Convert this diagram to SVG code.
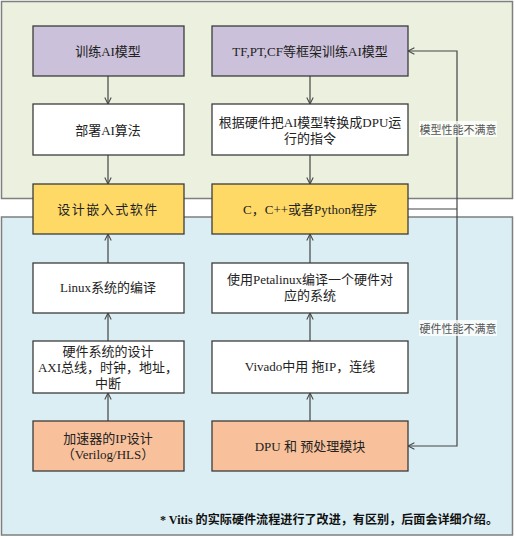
<svg xmlns="http://www.w3.org/2000/svg" width="516" height="538" viewBox="0 0 516 538">
<defs>
<style>
.box{stroke:#3c3c3c;stroke-width:1.3}
.purple{fill:#ccc1da}
.white{fill:#ffffff}
.yellow{fill:#ffd966}
.orange{fill:#f8c19c}
.t{font-family:"Liberation Serif","Noto Sans CJK SC",serif;font-size:13px;fill:#222;text-anchor:middle;dominant-baseline:central}
.lbl{font-family:"Noto Sans CJK SC","Noto Sans",sans-serif;font-size:11px;fill:#555;text-anchor:middle;dominant-baseline:central}
.conn{fill:none;stroke:#444;stroke-width:1.2}
</style>
<marker id="arr" viewBox="0 0 10 10" refX="9" refY="5" markerWidth="8" markerHeight="8" orient="auto" markerUnits="userSpaceOnUse">
<path d="M1,1 L9,5 L1,9" fill="none" stroke="#444" stroke-width="1.3"/>
</marker>
</defs>
<rect width="516" height="538" fill="#ffffff"/>
<g id="panels">
<rect x="1.5" y="1.5" width="511" height="197" fill="#ebf1de" stroke="#7f7f7f" stroke-width="1.5"/>
<rect x="1.5" y="217" width="511" height="318" fill="#dbeef4" stroke="#7f7f7f" stroke-width="1.5"/>
</g>
<g id="connectors">
<line class="conn" x1="108" y1="76" x2="108" y2="104" marker-end="url(#arr)"/>
<line class="conn" x1="108" y1="155" x2="108" y2="184" marker-end="url(#arr)"/>
<line class="conn" x1="108" y1="263" x2="108" y2="234" marker-end="url(#arr)"/>
<line class="conn" x1="108" y1="341" x2="108" y2="313" marker-end="url(#arr)"/>
<line class="conn" x1="108" y1="421" x2="108" y2="393" marker-end="url(#arr)"/>
<line class="conn" x1="310" y1="76" x2="310" y2="104" marker-end="url(#arr)"/>
<line class="conn" x1="310" y1="155" x2="310" y2="184" marker-end="url(#arr)"/>
<line class="conn" x1="310" y1="263" x2="310" y2="234" marker-end="url(#arr)"/>
<line class="conn" x1="310" y1="341" x2="310" y2="313" marker-end="url(#arr)"/>
<line class="conn" x1="310" y1="421" x2="310" y2="393" marker-end="url(#arr)"/>
<line class="conn" x1="408" y1="209" x2="457" y2="209"/>
<path class="conn" d="M457,209 L457,51 L408,51" marker-end="url(#arr)"/>
<path class="conn" d="M457,209 L457,446 L408,446" marker-end="url(#arr)"/>
</g>
<g id="label-model">
<rect x="419" y="121" width="78" height="16" fill="#ffffff" fill-opacity="0.75"/>
<text class="lbl" x="458" y="129">模型性能不满意</text>
</g>
<g id="label-hw">
<rect x="419" y="320" width="78" height="16" fill="#ffffff" fill-opacity="0.75"/>
<text class="lbl" x="458" y="328">硬件性能不满意</text>
</g>
<g id="n-train">
<rect class="box purple" x="33" y="26" width="151" height="50"/>
<text class="t" x="108" y="51">训练AI模型</text>
</g>
<g id="n-tf">
<rect class="box purple" x="212" y="26" width="196" height="50"/>
<text class="t" x="310" y="51">TF,PT,CF等框架训练AI模型</text>
</g>
<g id="n-deploy">
<rect class="box white" x="33" y="104" width="151" height="51"/>
<text class="t" x="108" y="130">部署AI算法</text>
</g>
<g id="n-convert">
<rect class="box white" x="212" y="104" width="196" height="51"/>
<text class="t" x="310" y="122">根据硬件把AI模型转换成DPU运</text>
<text class="t" x="310" y="138">行的指令</text>
</g>
<g id="n-embedded">
<rect class="box yellow" x="33" y="184" width="151" height="50"/>
<text class="t" x="108" y="209" letter-spacing="1.5">设计嵌入式软件</text>
</g>
<g id="n-cpp">
<rect class="box yellow" x="212" y="184" width="196" height="50"/>
<text class="t" x="310" y="209">C，C++或者Python程序</text>
</g>
<g id="n-linux">
<rect class="box white" x="33" y="263" width="151" height="50"/>
<text class="t" x="108" y="287">Linux系统的编译</text>
</g>
<g id="n-petalinux">
<rect class="box white" x="212" y="263" width="196" height="50"/>
<text class="t" x="310" y="279">使用Petalinux编译一个硬件对</text>
<text class="t" x="310" y="295">应的系统</text>
</g>
<g id="n-hwsys">
<rect class="box white" x="33" y="341" width="151" height="52"/>
<text class="t" x="108" y="351">硬件系统的设计</text>
<text class="t" x="108" y="367">AXI总线，时钟，地址，</text>
<text class="t" x="108" y="383">中断</text>
</g>
<g id="n-vivado">
<rect class="box white" x="212" y="341" width="196" height="52"/>
<text class="t" x="310" y="366">Vivado中用 拖IP，连线</text>
</g>
<g id="n-ip">
<rect class="box orange" x="33" y="421" width="151" height="50"/>
<text class="t" x="108" y="438">加速器的IP设计</text>
<text class="t" x="108" y="454">（Verilog/HLS）</text>
</g>
<g id="n-dpu">
<rect class="box orange" x="212" y="421" width="196" height="50"/>
<text class="t" x="310" y="446">DPU 和 预处理模块</text>
</g>
<text x="160" y="520" font-family="Liberation Serif,'Noto Sans CJK SC',serif" font-size="12" font-weight="bold" fill="#111" dominant-baseline="central" textLength="338" lengthAdjust="spacingAndGlyphs">* Vitis 的实际硬件流程进行了改进，有区别，后面会详细介绍。</text>
</svg>
